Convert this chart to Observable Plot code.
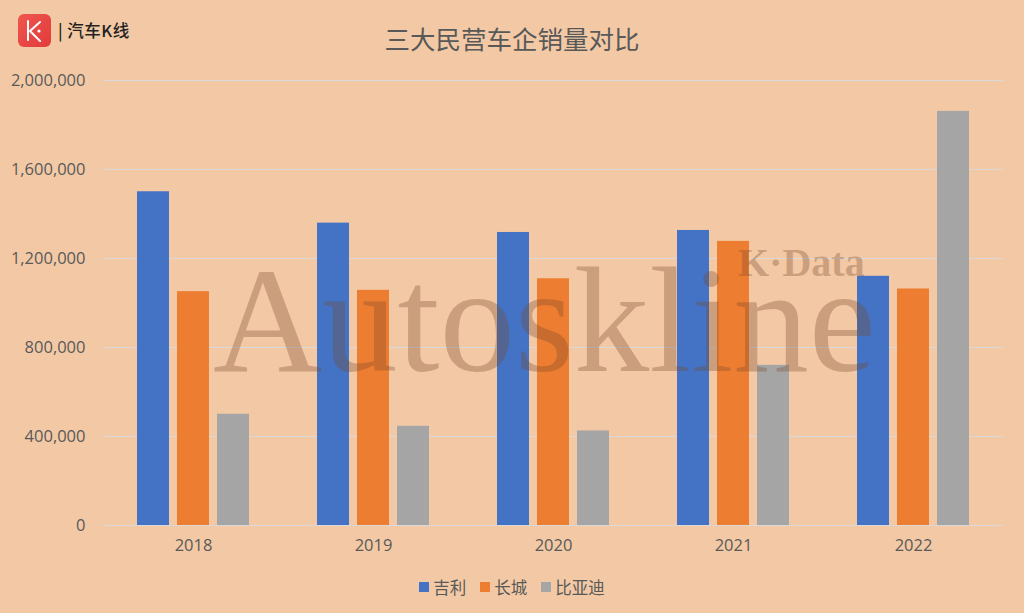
<!DOCTYPE html>
<html><head><meta charset="utf-8">
<script src="https://cdn.jsdelivr.net/npm/d3@7"></script>
<script src="https://cdn.jsdelivr.net/npm/@observablehq/plot@0.6"></script>
<style>
body{margin:0;background:#F3C9A5;}
#wrap{position:relative;width:1024px;height:613px;background:#F3C9A5;font-family:"Noto Sans CJK SC","Noto Sans",sans-serif;overflow:hidden;}
#header{position:absolute;left:0;top:0;width:1024px;height:60px;}
#logo{position:absolute;left:18px;top:14px;width:33px;height:33px;border-radius:6px;background:linear-gradient(135deg,#F0564E,#E13B3B);}
#brand{position:absolute;left:58px;top:18px;font-size:16.5px;font-weight:500;color:#222;letter-spacing:0.5px;}
#title{position:absolute;left:0;width:1024px;top:19px;text-align:center;font-size:25.5px;color:#595959;}
#chart{position:absolute;left:0;top:60px;}
#legend{position:absolute;left:0;top:575px;width:1024px;display:flex;justify-content:center;gap:14px;font-size:16.5px;color:#595959;}
#legend .item{display:flex;align-items:center;gap:4px;}
#legend .sw{width:10px;height:10px;display:inline-block;}
#wm{position:absolute;left:213px;top:245px;font-family:"Liberation Serif","DejaVu Serif",serif;font-size:151px;line-height:1;color:#7a4a2a;opacity:0.32;pointer-events:none;white-space:nowrap;}
#kd{position:absolute;left:738px;top:243px;font-family:"Liberation Serif","DejaVu Serif",serif;font-weight:bold;font-size:40px;line-height:1;color:#7a4a2a;opacity:0.32;pointer-events:none;white-space:nowrap;}
</style></head>
<body>
<div id="wrap">
  <div id="header">
    <div id="logo"><svg width="33" height="33"><path d="M10 7 V26 M22 8 L12 17 L22 27" stroke="#fff" stroke-width="2" fill="none" stroke-linecap="round"/><circle cx="21" cy="17" r="1.6" fill="#fff"/></svg></div>
    <div id="brand">| 汽车K线</div>
    <div id="title">三大民营车企销量对比</div>
  </div>
  <div id="chart"></div>
  <div id="legend"></div>
  <div id="wm">Autoskline</div>
  <div id="kd">K·Data</div>
</div>
<script>
const years = ["2018","2019","2020","2021","2022"];
const series = ["吉利","长城","比亚迪"];
const geely = [1500000,1359000,1317000,1326000,1120000];
const greatWall = [1051000,1057000,1109000,1277000,1063000];
const byd = [500000,446000,425000,720000,1861000];
const colors = ["#4472C4","#ED7D31","#A5A5A5"];
const yTicks = [0,400000,800000,1200000,1600000,2000000];

const values = [geely, greatWall, byd];
const data = years.flatMap((yr,i)=>series.map((s,j)=>({year:yr, s, v:values[j][i]})));

const chart = Plot.plot({
  width:1024, height:505,
  marginLeft:103, marginRight:21, marginTop:20, marginBottom:40,
  style:{background:"transparent", fontSize:"16.5px", color:"#595959", fontFamily:"'Open Sans','Noto Sans',sans-serif"},
  fx:{domain:years, padding:0, label:null, tickSize:0, tickPadding:14, axis:"bottom"},
  x:{domain:series, paddingInner:0.2, paddingOuter:0.85, axis:null},
  y:{domain:[0,2000000], ticks:yTicks, tickFormat:d3.format(","), label:null, tickSize:0, tickPadding:18},
  color:{domain:series, range:colors},
  marks:[
    Plot.gridY(yTicks,{stroke:"#D9D9D9", strokeOpacity:1, strokeWidth:1.2}),
    Plot.barY(data,{fx:"year", x:"s", y:"v", fill:"s"})
  ]
});
document.getElementById("chart").appendChild(chart);

const legend = document.getElementById("legend");
series.forEach((s,i)=>{
  const it = document.createElement("div"); it.className="item";
  const sw = document.createElement("span"); sw.className="sw"; sw.style.background=colors[i];
  const t = document.createElement("span"); t.textContent=s;
  it.appendChild(sw); it.appendChild(t); legend.appendChild(it);
});
</script>
</body></html>
